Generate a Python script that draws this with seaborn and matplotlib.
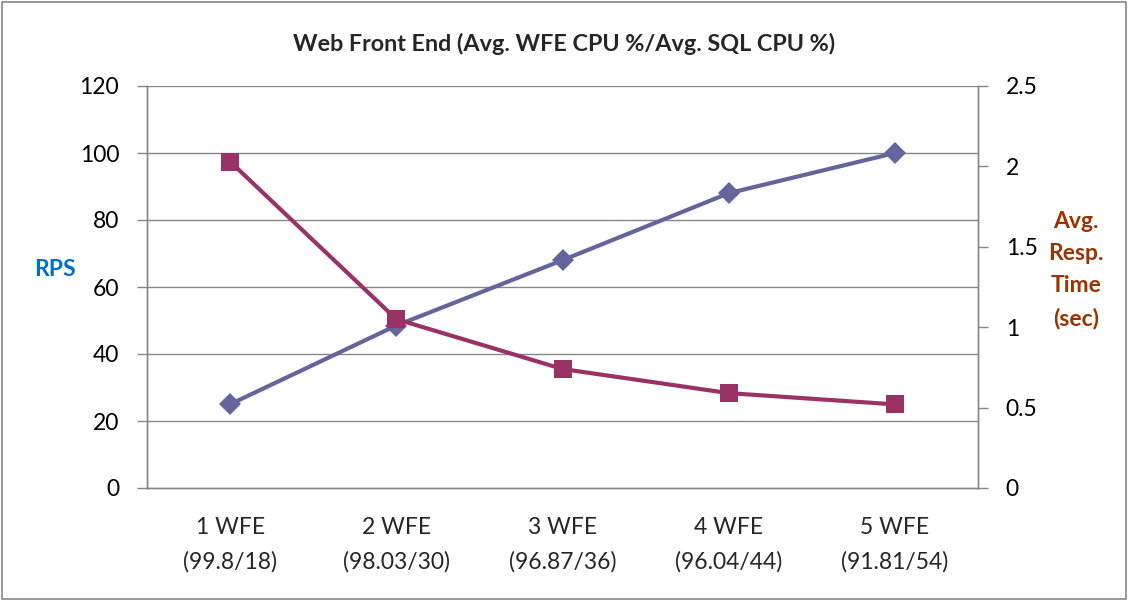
import matplotlib
matplotlib.use("Agg")
import matplotlib.pyplot as plt
import seaborn as sns
import pandas as pd
from matplotlib.patches import Rectangle

categories = ["1 WFE\n(99.8/18)", "2 WFE\n(98.03/30)", "3 WFE\n(96.87/36)",
              "4 WFE\n(96.04/44)", "5 WFE\n(91.81/54)"]
rps = [25, 48.5, 68, 88, 100]
resp_time = [2.03, 1.05, 0.74, 0.59, 0.52]
left_ticks = [0, 20, 40, 60, 80, 100, 120]
right_ticks = [0, 0.5, 1, 1.5, 2, 2.5]
right_tick_labels = ["0", "0.5", "1", "1.5", "2", "2.5"]

sns.set_theme(style="white")
plt.rcParams['font.family'] = ['Lato', 'DejaVu Sans']

fig = plt.figure(figsize=(11.28, 6), dpi=100)
ax = fig.add_axes([147/1128, 1-488/600, (978-147)/1128, (488-86)/600])
ax2 = ax.twinx()

df = pd.DataFrame({"cat": categories, "rps": rps, "resp": resp_time})

grid_c = "#868686"
for t in left_ticks[1:]:
    ax.axhline(t, color=grid_c, lw=1.0, zorder=0)

sns.lineplot(data=df, x="cat", y="rps", ax=ax, sort=False, color="#64659C",
             lw=3, marker="D", markersize=11, markeredgewidth=0, zorder=3)
sns.lineplot(data=df, x="cat", y="resp", ax=ax2, sort=False, color="#993366",
             lw=3, marker="s", markersize=13, markeredgewidth=0, zorder=3)

fs = 16.5
ax.set_xlim(-0.5, 4.5)
ax.set_ylim(0, 120)
ax2.set_ylim(0, 2.5)
ax.set_yticks(left_ticks)
ax.set_yticklabels([str(t) for t in left_ticks], fontsize=fs, color="black")
ax2.set_yticks(right_ticks)
ax2.set_yticklabels(right_tick_labels, fontsize=fs, color="black")

ax.set_xticks(range(len(categories)))
ax.set_xticklabels(categories, fontsize=fs, linespacing=1.72)
ax.tick_params(axis="x", length=0, pad=21)
ax.set_xticks([i - 0.5 for i in range(len(categories) + 1)], minor=True)
ax.tick_params(axis="x", which="minor", length=7, color=grid_c, width=1, direction="out")
ax.tick_params(axis="y", length=7, color=grid_c, width=1, direction="out", pad=13, left=True)
ax2.tick_params(axis="y", length=7, color=grid_c, width=1, direction="out", pad=13, right=True)

for a in (ax, ax2):
    a.set_xlabel("")
    a.spines["top"].set_visible(False)
    for s in ("left", "right", "bottom"):
        a.spines[s].set_color(grid_c)
        a.spines[s].set_linewidth(1)

ax.set_ylabel("")
ax2.set_ylabel("")
fig.text(55/1128, 1-270/600, "RPS", color="#0070C0", fontsize=fs, fontweight="bold",
         ha="center", va="center")
fig.text(1076/1128, 1-270/600, "Avg.\nResp.\nTime\n(sec)", color="#993300", fontsize=fs,
         fontweight="bold", ha="center", va="center", linespacing=1.65)
fig.text(564/1128, 1-44/600, "Web Front End (Avg. WFE CPU %/Avg. SQL CPU %)",
         fontsize=16.8, fontweight="bold", ha="center", va="center")

fig.add_artist(Rectangle((0.002, 0.002), 0.996, 0.994, transform=fig.transFigure,
                         fill=False, edgecolor="#868686", lw=1.2))

fig.savefig("out.png", dpi=100)
